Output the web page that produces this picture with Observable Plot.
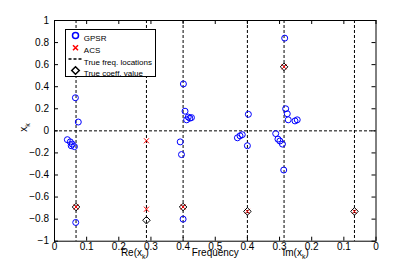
<!DOCTYPE html>
<html><head><meta charset="utf-8">
<script src="https://cdn.jsdelivr.net/npm/d3@7"></script>
<script src="https://cdn.jsdelivr.net/npm/@observablehq/plot@0.6"></script>
<style>
html,body{margin:0;padding:0;background:#fff;}
#chart svg{display:block;}
</style>
</head><body><div id="chart"></div>
<script>
// True frequency locations and coefficient values (Re plotted at f, Im plotted mirrored at 1 - f)
const trueFreqs = [0.067, 0.286, 0.400];
const trueRe = [-0.69, -0.81, -0.69];
const trueIm = [-0.73, 0.58, -0.73];

// ACS estimates
const acsReFreq = [0.067, 0.286, 0.286, 0.400];
const acsReVal = [-0.69, -0.71, -0.09, -0.69];
const acsImFreq = [0.067, 0.286, 0.400];
const acsImVal = [-0.73, 0.58, -0.73];

// GPSR estimates
const gpsrReFreq = [0.065, 0.074, 0.040, 0.049, 0.055, 0.062, 0.052, 0.066,
                    0.401, 0.406, 0.411, 0.416, 0.421, 0.426, 0.391, 0.395, 0.400];
const gpsrReVal  = [0.30, 0.08, -0.08, -0.10, -0.12, -0.143, -0.135, -0.83,
                    0.425, 0.178, 0.10, 0.125, 0.115, 0.12, -0.10, -0.215, -0.80];
const gpsrImFreq = [0.397, 0.431, 0.423, 0.416, 0.400,
                    0.284, 0.281, 0.276, 0.273, 0.252, 0.245, 0.312, 0.305, 0.299, 0.291, 0.287];
const gpsrImVal  = [0.15, -0.063, -0.045, -0.035, -0.135,
                    0.84, 0.20, 0.155, 0.10, 0.09, 0.10, -0.025, -0.075, -0.092, -0.12, -0.355];

// Axis ticks and labels
const xTicks = [0, 0.1, 0.2, 0.3, 0.4, 0.5, 0.6, 0.7, 0.8, 0.9, 1];
const xTickLabels = ["0", "0.1", "0.2", "0.3", "0.4", "0.5", "0.4", "0.3", "0.2", "0.1", "0"];
const yTicks = [-1, -0.8, -0.6, -0.4, -0.2, 0, 0.2, 0.4, 0.6, 0.8, 1];
const yTickLabels = ["\u22121", "\u22120.8", "\u22120.6", "\u22120.4", "\u22120.2", "0", "0.2", "0.4", "0.6", "0.8", "1"];
const axisLabels = ["Re(x_k)", "Frequency", "Im(x_k)"];
const yLabel = "x_k";
const legendLabels = ["GPSR", "ACS", "True freq. locations", "True coeff. value"];

// Build tables
const gpsr = [
  ...gpsrReFreq.map((f, i) => ({x: f, y: gpsrReVal[i]})),
  ...gpsrImFreq.map((f, i) => ({x: 1 - f, y: gpsrImVal[i]}))
];
const acs = [
  ...acsReFreq.map((f, i) => ({x: f, y: acsReVal[i]})),
  ...acsImFreq.map((f, i) => ({x: 1 - f, y: acsImVal[i]}))
];
const trueCoeffs = [
  ...trueFreqs.map((f, i) => ({x: f, y: trueRe[i]})),
  ...trueFreqs.map((f, i) => ({x: 1 - f, y: trueIm[i]}))
];
const freqLines = [...trueFreqs, ...trueFreqs.map(f => 1 - f)];

const W = 415, H = 272, mL = 54, mT = 20, mR = 39.5, mB = 31.3;
const plotW = W - mL - mR, plotH = H - mT - mB, tk = 4;

const dashSymbol = {draw(context) { context.moveTo(-7.5, 0); context.lineTo(7.5, 0); }};
const dash = "3,2";
const blue = "#0000ff";
const legendDy = [15, 27.2, 38.6, 50];

const chart = Plot.plot({
  width: W,
  height: H,
  marginLeft: mL,
  marginTop: mT,
  marginRight: mR,
  marginBottom: mB,
  style: {fontFamily: "'Liberation Sans', Arial, Helvetica, sans-serif", fontSize: "10px", background: "#fff", color: "#000"},
  x: {domain: [0, 1], axis: null},
  y: {domain: [-1, 1], axis: null},
  marks: [
    Plot.ruleY([0], {stroke: "black", strokeDasharray: dash, strokeWidth: 1}),
    Plot.ruleX(freqLines, {stroke: "black", strokeDasharray: dash, strokeWidth: 1}),
    Plot.dot(gpsr, {x: "x", y: "y", r: 3, stroke: blue, strokeWidth: 1, fill: "none"}),
    Plot.dot(acs, {x: "x", y: "y", symbol: "times", r: 2.4, stroke: "red", strokeWidth: 1}),
    Plot.dot(trueCoeffs, {x: "x", y: "y", symbol: "diamond2", r: 3.4, stroke: "black", strokeWidth: 1, fill: "none"}),
    // inward ticks on all four sides
    Plot.tickX(xTicks, {x: d => d, insetTop: plotH - tk, stroke: "black"}),
    Plot.tickX(xTicks, {x: d => d, insetBottom: plotH - tk, stroke: "black"}),
    Plot.tickY(yTicks, {y: d => d, insetRight: plotW - tk, stroke: "black"}),
    Plot.tickY(yTicks, {y: d => d, insetLeft: plotW - tk, stroke: "black"}),
    Plot.frame({stroke: "black"}),
    // tick labels
    Plot.text(xTickLabels, {x: (d, i) => xTicks[i], frameAnchor: "bottom", dy: 8.3, fontSize: 10}),
    Plot.text(yTickLabels, {y: (d, i) => yTicks[i], frameAnchor: "left", dx: -5.5, textAnchor: "end", fontSize: 10}),
    // axis labels
    Plot.text(axisLabels, {x: (d, i) => [0.25, 0.5, 0.75][i], frameAnchor: "bottom", dy: 14.5, fontSize: 10}),
    Plot.text([yLabel], {frameAnchor: "left", dx: -31, dy: 1, rotate: -90, fontSize: 10}),
    // Legend
    Plot.frame({insetLeft: 11, insetTop: 9, insetRight: 220.5, insetBottom: 164.7, fill: "white", stroke: "black"}),
    Plot.dot([legendLabels[0]], {frameAnchor: "top-left", dx: 21, dy: legendDy[0], r: 3, stroke: blue, fill: "none"}),
    Plot.dot([legendLabels[1]], {frameAnchor: "top-left", dx: 21, dy: legendDy[1], symbol: "times", r: 2.4, stroke: "red"}),
    Plot.dot([legendLabels[2]], {frameAnchor: "top-left", dx: 21.5, dy: legendDy[2], symbol: dashSymbol, stroke: "black", fill: "none", strokeDasharray: dash}),
    Plot.dot([legendLabels[3]], {frameAnchor: "top-left", dx: 21, dy: legendDy[3], symbol: "diamond2", r: 3.4, stroke: "black", fill: "none"}),
    ...legendLabels.map((lab, i) =>
      Plot.text([lab], {frameAnchor: "top-left", dx: 29.3, dy: legendDy[i], textAnchor: "start", fontSize: 8}))
  ]
});
document.getElementById("chart").appendChild(chart);

// Render "_k" as a real subscript
d3.select(chart).selectAll("text").each(function() {
  const t = this.textContent;
  if (!t.includes("_k")) return;
  const [pre, post] = t.split("_k");
  const sel = d3.select(this);
  sel.text(null);
  sel.append("tspan").text(pre);
  sel.append("tspan").attr("font-size", 7).attr("dy", 3).text("k");
  if (post) sel.append("tspan").attr("dy", -3).text(post);
});
</script>
</body></html>
